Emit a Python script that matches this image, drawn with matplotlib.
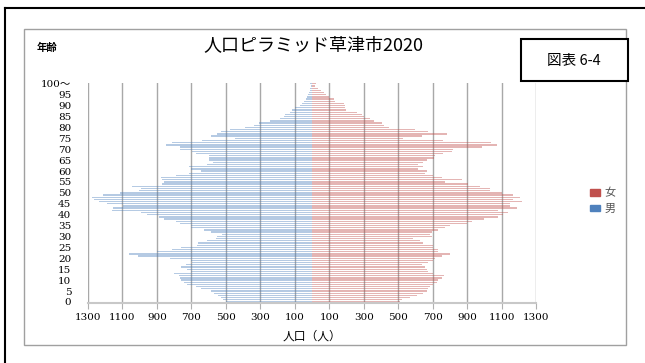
import numpy as np
import matplotlib
matplotlib.use("Agg")
from matplotlib import pyplot as plt
from matplotlib.patches import Rectangle
from matplotlib.lines import Line2D

plt.rcParams['font.family'] = ['Noto Sans CJK JP', 'DejaVu Sans']

# 年齢別人口（0歳〜100歳以上）
ages = np.arange(0, 101)
male = [502, 516, 528, 547, 566, 589, 647, 676, 725, 744,
        763, 767, 773, 802, 700, 725, 763, 729, 696, 705,
        825, 1011, 1063, 899, 812, 760, 667, 663, 609, 555,
        551, 522, 585, 628, 705, 705, 767, 792, 860, 889,
        956, 995, 1159, 1153, 1095, 1192, 1237, 1266, 1275, 1211,
        1115, 1005, 995, 1043, 870, 860, 870, 879, 792, 715,
        647, 705, 715, 609, 576, 599, 599, 599, 676, 696,
        767, 767, 850, 812, 638, 444, 589, 551, 531, 473,
        386, 334, 309, 242, 184, 164, 155, 126, 116, 97,
        68, 58, 44, 35, 29, 23, 19, 14, 10, 6,
        10]
female = [512, 522, 570, 609, 647, 667, 676, 686, 705, 725,
          734, 754, 767, 705, 676, 667, 657, 638, 676, 705,
          715, 754, 798, 734, 729, 705, 705, 647, 628, 589,
          696, 686, 696, 734, 773, 802, 899, 927, 1000, 1082,
          1111, 1140, 1082, 1188, 1150, 1150, 1217, 1169, 1208, 1169,
          1101, 1034, 1034, 976, 908, 773, 870, 754, 705, 657,
          667, 618, 647, 618, 647, 667, 709, 715, 763, 812,
          821, 985, 1072, 1038, 763, 531, 638, 783, 676, 595,
          444, 415, 406, 357, 334, 300, 290, 261, 197, 193,
          193, 184, 135, 126, 97, 83, 68, 52, 35, 19,
          25]

xticks = [-1300, -1100, -900, -700, -500, -300, -100, 100, 300, 500, 700, 900, 1100, 1300]
yticks = list(range(0, 101, 5))
ylabels = [str(v) for v in yticks[:-1]] + ["100〜"]

W, H = 645, 363
fig = plt.figure(figsize=(W / 100, H / 100), dpi=100)


def fx(px):
    return px / W


def fy(py):
    return 1 - py / H


ax = fig.add_axes([fx(88), fy(303), fx(536) - fx(88), fy(82.5) - fy(303)])

ax.barh(ages, -np.array(male), height=0.6, color="#4F81BD", alpha=0.42, lw=0, label="男", zorder=2)
ax.barh(ages, female, height=0.6, color="#C0504D", alpha=0.42, lw=0, label="女", zorder=2)

ax.set_xlim(-1300, 1300)
ax.set_ylim(-0.5, 100.6)
ax.set_xticks(xticks)
ax.set_xticklabels([str(abs(v)) for v in xticks], family=['DejaVu Serif'], fontsize=7.5)
ax.set_yticks(yticks)
ax.set_yticklabels(ylabels, family=['DejaVu Serif', 'Noto Sans CJK JP'], fontsize=7.5)
ax.tick_params(axis='y', length=0, pad=12)
ax.tick_params(axis='x', length=4, color="#B0B0B0", pad=3)
ax.grid(axis='x', color="#A8A8A8", lw=1, zorder=0)
for s in ["top", "right", "left"]:
    ax.spines[s].set_visible(False)
ax.spines["bottom"].set_color("#C8C8C8")
ax.spines["bottom"].set_linewidth(1.5)

ax.set_xlabel("人口（人）", fontsize=8.5, labelpad=6)

# 凡例
fig.legend(handles=[Rectangle((0, 0), 1, 1, color="#C0504D"), Rectangle((0, 0), 1, 1, color="#4F81BD")],
           labels=["女", "男"], loc="center left", bbox_to_anchor=(fx(580), fy(201)),
           frameon=False, fontsize=8, handlelength=0.9, handleheight=0.5,
           handletextpad=0.4, labelspacing=0.5, labelcolor="#555555")

fig.text(fx(313), fy(45), "人口ピラミッド草津市2020", ha="center", va="center", fontsize=13)
fig.text(fx(37), fy(48), "年齢", ha="left", va="center", fontsize=7.5, weight="bold")

# グラフ枠と外枠
fig.patches.append(Rectangle((fx(24), fy(345)), fx(626) - fx(24), fy(29) - fy(345),
                             transform=fig.transFigure, fill=False, ec="#A0A0A0", lw=1))
fig.lines.append(Line2D([fx(5), fx(645)], [fy(8), fy(8)], transform=fig.transFigure, color="black", lw=1.5))
fig.lines.append(Line2D([fx(5), fx(5)], [fy(8), fy(363)], transform=fig.transFigure, color="black", lw=1.5))

fig.patches.append(Rectangle((fx(521), fy(81)), fx(628) - fx(521), fy(39) - fy(81),
                             transform=fig.transFigure, fc="white", ec="black", lw=1.5, zorder=5))
fig.text(fx(574), fy(61), "図表 6-4", ha="center", va="center", fontsize=10.5, zorder=6)

fig.savefig("out.png", dpi=100)
